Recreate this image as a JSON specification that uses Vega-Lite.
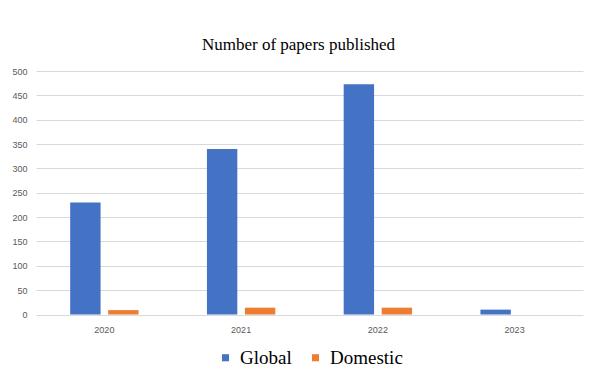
{
  "$schema": "https://vega.github.io/schema/vega-lite/v6.json",
  "width": 547,
  "height": 243.5,
  "autosize": "none",
  "padding": {"left": 36, "top": 71, "right": 6, "bottom": 61.5},
  "background": "white",
  "title": {
    "text": "Number of papers published",
    "font": "Liberation Serif",
    "fontSize": 17,
    "fontWeight": "normal",
    "color": "#000000",
    "anchor": "middle",
    "baseline": "alphabetic",
    "offset": 21,
    "dx": -11,
    "dy": 21
  },
  "data": {
    "values": [
      {"year": "2020", "series": "Global", "papers": 230},
      {"year": "2020", "series": "Domestic", "papers": 9},
      {"year": "2021", "series": "Global", "papers": 340},
      {"year": "2021", "series": "Domestic", "papers": 14},
      {"year": "2022", "series": "Global", "papers": 473},
      {"year": "2022", "series": "Domestic", "papers": 14},
      {"year": "2023", "series": "Global", "papers": 10},
      {"year": "2023", "series": "Domestic", "papers": 0}
    ]
  },
  "mark": {"type": "bar"},
  "encoding": {
    "x": {
      "field": "year",
      "type": "nominal",
      "scale": {"paddingInner": 0.5, "paddingOuter": 0.25},
      "axis": {
        "title": null,
        "labelAngle": 0,
        "domain": false,
        "ticks": false,
        "labelPadding": 11,
        "labelFont": "Liberation Sans",
        "labelFontSize": 9,
        "labelColor": "#595959"
      }
    },
    "xOffset": {
      "field": "series",
      "type": "nominal",
      "sort": ["Global", "Domestic"],
      "scale": {"paddingInner": 0.2, "paddingOuter": 0}
    },
    "y": {
      "field": "papers",
      "type": "quantitative",
      "scale": {"domain": [0, 500], "nice": false},
      "axis": {
        "title": null,
        "values": [0, 50, 100, 150, 200, 250, 300, 350, 400, 450, 500],
        "domain": false,
        "ticks": false,
        "labelPadding": 9,
        "labelFont": "Liberation Sans",
        "labelFontSize": 9,
        "labelColor": "#595959",
        "gridColor": "#d9d9d9",
        "gridWidth": 1
      }
    },
    "color": {
      "field": "series",
      "type": "nominal",
      "sort": ["Global", "Domestic"],
      "scale": {"domain": ["Global", "Domestic"], "range": ["#4472C4", "#ED7D31"]},
      "legend": {
        "title": null,
        "orient": "bottom",
        "direction": "horizontal",
        "symbolType": "square",
        "symbolSize": 50,
        "symbolStrokeWidth": 0,
        "labelFont": "Liberation Serif",
        "labelFontSize": 19,
        "labelColor": "#000000",
        "labelOffset": 5,
        "columnPadding": 14,
        "offset": 13
      }
    }
  },
  "config": {
    "view": {"stroke": null},
    "legend": {
      "labelFont": "Liberation Serif",
      "layout": {"bottom": {"anchor": "middle"}}
    }
  }
}
